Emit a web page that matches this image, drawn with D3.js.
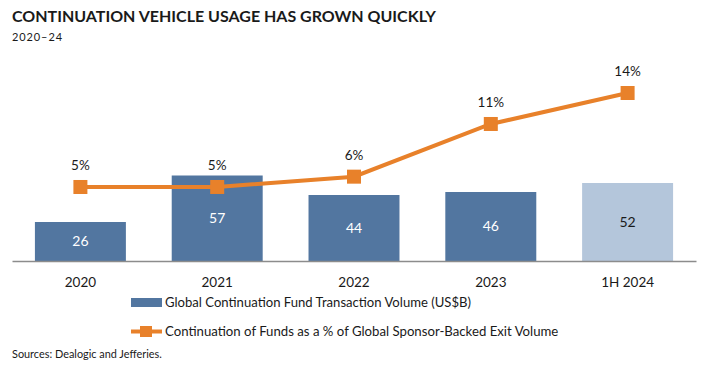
<!DOCTYPE html>
<html>
<head>
<meta charset="utf-8">
<style>
  body { margin: 0; background: #fff; }
  svg text { font-family: Lato, "Open Sans", sans-serif; }
</style>
</head>
<body></body>
<script src="https://d3js.org/d3.v7.min.js"></script>
<script>
  // chart data
  const categories = ['2020', '2021', '2022', '2023', '1H 2024']
  const volume = [26, 57, 44, 46, 52]
  const sharePct = [4.9, 4.9, 5.9, 11.0, 14.0]
  const shareLabels = ['5%', '5%', '6%', '11%', '14%']
  const partial = [false, false, false, false, true]

  const title = 'CONTINUATION VEHICLE USAGE HAS GROWN QUICKLY'
  const subtitle = '2020\u201324'
  const legendBar = 'Global Continuation Fund Transaction Volume (US$B)'
  const legendLine = 'Continuation of Funds as a % of Global Sponsor-Backed Exit Volume'
  const source = 'Sources: Dealogic and Jefferies.'

  const width = 721
  const height = 367
  const blue = '#5276a0'
  const lightBlue = '#b4c6db'
  const orange = '#e8812a'

  const svg = d3.select('body')
    .append('svg')
    .attr('width', width)
    .attr('height', height)

  // title block
  svg.append('text')
    .attr('x', 12).attr('y', 21.5)
    .attr('font-size', 16)
    .attr('font-weight', 700)
    .attr('fill', '#1a1a1a')
    .text(title)

  svg.append('text')
    .attr('x', 12).attr('y', 40.5)
    .attr('font-size', 11)
    .attr('letter-spacing', 0.9)
    .attr('fill', '#1a1a1a')
    .text(subtitle)

  // scales
  const baseline = 261
  const x = d3.scaleBand()
    .domain(categories)
    .range([12, 696])
    .paddingInner(0.335)
    .paddingOuter(0.1675)

  const y = d3.scaleLinear()
    .domain([0, 60])
    .range([baseline, baseline - 90])

  const y2 = d3.scaleLinear()
    .domain([0, 14])
    .range([237.6, 93])

  // bars
  svg.selectAll('rect.bar')
    .data(volume)
    .enter().append('rect')
    .attr('class', 'bar')
    .attr('x', (d, i) => x(categories[i]))
    .attr('y', d => y(d))
    .attr('width', x.bandwidth())
    .attr('height', d => baseline - y(d))
    .attr('fill', (d, i) => partial[i] ? lightBlue : blue)

  svg.selectAll('text.barlabel')
    .data(volume)
    .enter().append('text')
    .attr('class', 'barlabel')
    .attr('x', (d, i) => x(categories[i]) + x.bandwidth() / 2)
    .attr('y', d => (y(d) + baseline) / 2)
    .attr('dy', '0.35em')
    .attr('text-anchor', 'middle')
    .attr('font-size', 14)
    .attr('fill', (d, i) => partial[i] ? '#1a1a1a' : '#fff')
    .text(d => d)

  // x axis
  const xAxis = d3.axisBottom(x).tickSize(0).tickPadding(16)
  const gx = svg.append('g')
    .attr('transform', `translate(0, ${baseline})`)
    .call(xAxis)
  gx.select('.domain').attr('stroke', '#8c8c8c').attr('stroke-width', 1.5)
  gx.selectAll('text')
    .attr('font-family', 'Lato, sans-serif')
    .attr('font-size', 13.5)
    .attr('fill', '#1a1a1a')

  // line
  const cx = (d, i) => x(categories[i]) + x.bandwidth() / 2
  const line = d3.line()
    .x(cx)
    .y(d => y2(d))

  svg.append('path')
    .datum(sharePct)
    .attr('d', line)
    .attr('fill', 'none')
    .attr('stroke', orange)
    .attr('stroke-width', 4)

  svg.selectAll('rect.marker')
    .data(sharePct)
    .enter().append('rect')
    .attr('class', 'marker')
    .attr('x', (d, i) => cx(d, i) - 7)
    .attr('y', d => y2(d) - 7)
    .attr('width', 14)
    .attr('height', 14)
    .attr('fill', orange)

  svg.selectAll('text.pct')
    .data(sharePct)
    .enter().append('text')
    .attr('class', 'pct')
    .attr('x', cx)
    .attr('y', d => y2(d) - 17)
    .attr('text-anchor', 'middle')
    .attr('font-size', 13.5)
    .attr('fill', '#1a1a1a')
    .text((d, i) => shareLabels[i])

  // legend
  const legend = svg.append('g')
  legend.append('rect')
    .attr('x', 131).attr('y', 298)
    .attr('width', 31).attr('height', 9)
    .attr('fill', blue)
  legend.append('text')
    .attr('x', 165).attr('y', 302.5)
    .attr('dy', '0.35em')
    .attr('font-size', 13.1)
    .attr('fill', '#1a1a1a')
    .text(legendBar)

  legend.append('line')
    .attr('x1', 131).attr('x2', 162)
    .attr('y1', 331.5).attr('y2', 331.5)
    .attr('stroke', orange)
    .attr('stroke-width', 4)
  legend.append('rect')
    .attr('x', 140).attr('y', 326)
    .attr('width', 12).attr('height', 11)
    .attr('fill', orange)
  legend.append('text')
    .attr('x', 165).attr('y', 331.5)
    .attr('dy', '0.35em')
    .attr('font-size', 13.2)
    .attr('fill', '#1a1a1a')
    .text(legendLine)

  // source
  svg.append('text')
    .attr('x', 12).attr('y', 358)
    .attr('font-size', 10.9)
    .attr('fill', '#1a1a1a')
    .text(source)
</script>
</html>
